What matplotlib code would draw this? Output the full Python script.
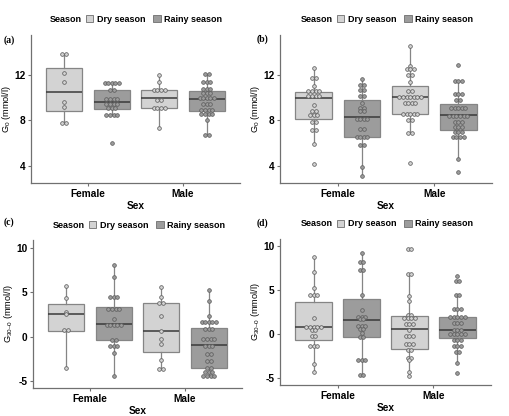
import matplotlib
matplotlib.use('Agg')
import matplotlib.pyplot as plt
from matplotlib.patches import Patch
from collections import Counter
import numpy as np

plt.rcParams['font.family'] = ['Liberation Sans', 'DejaVu Sans']
plt.rcParams['mathtext.fontset'] = 'custom'
plt.rcParams['mathtext.rm'] = 'Liberation Sans'

sexes = ['Female', 'Male']
seasons = ['Dry season', 'Rainy season']

# panel (a): G0
a_female_dry = [13.8, 13.8, 12.2, 11.4, 9.6, 9.2, 7.8, 7.8]
a_female_rainy = [11.3, 11.3, 11.3, 11.3, 11.3, 10.64, 10.64, 9.88, 9.88, 9.88, 9.88,
                  9.47, 9.47, 9.47, 9.47, 9.09, 9.09, 9.09, 8.5, 8.5, 8.5, 8.5, 6.05]
a_male_dry = [12.03, 11.35, 10.64, 10.64, 10.64, 10.64, 9.82, 9.82,
              9.09, 9.09, 9.09, 9.09, 7.32]
a_male_rainy = [12.1, 12.1, 11.4, 11.4, 11.4, 10.8, 10.8, 10.8, 10.4, 10.4, 10.4,
                9.95, 9.95, 9.95, 9.95, 9.95, 9.4, 9.4, 9.4, 8.95, 8.95, 8.95, 8.95,
                8.6, 8.6, 8.6, 8.6, 8.05, 6.7, 6.7]
a_quart = [(8.85, 10.5, 12.6), (9.0, 9.64, 10.64), (9.09, 9.97, 10.64), (8.85, 9.88, 10.6)]

# panel (b): G0
b_female_dry = [12.62, 11.74, 11.74, 11.0, 10.55, 10.55, 10.55, 10.55, 10.11, 10.11,
                10.11, 10.11, 9.38, 8.79, 8.79, 8.5, 8.5, 8.5, 7.9, 7.9, 7.17, 7.17,
                5.94, 4.15]
b_female_rainy = [11.65, 11.14, 11.14, 10.7, 10.7, 10.17, 10.17, 9.53, 9.09, 9.09,
                  8.79, 8.79, 8.14, 8.14, 8.14, 8.14, 7.23, 7.23, 6.53, 6.53, 6.53,
                  6.53, 5.85, 5.85, 3.93, 3.14]
b_male_dry = [14.55, 12.82, 12.47, 12.47, 12.47, 12.03, 12.03, 11.35, 10.61, 10.61,
              10.06, 10.06, 10.06, 10.06, 10.06, 10.06, 10.06, 9.53, 9.53, 9.53, 9.53,
              8.58, 8.58, 8.58, 8.58, 8.58, 8.05, 8.05, 6.88, 6.88, 4.23]
b_male_rainy = [12.9, 11.44, 11.44, 11.44, 10.3, 10.3, 10.3, 9.8, 9.8, 9.06, 9.06,
                9.06, 9.06, 9.06, 8.35, 8.35, 8.35, 8.35, 8.35, 8.35, 7.88, 7.88, 7.88,
                7.4, 7.4, 7.4, 6.94, 6.94, 6.94, 6.5, 6.5, 6.5, 6.5, 4.6, 3.47]
b_quart = [(8.1, 9.97, 10.5), (6.58, 8.29, 9.76), (8.58, 10.06, 11.06), (7.18, 8.47, 9.44)]

# panel (c): G30-0
c_female_dry = [5.67, 4.37, 2.8, 2.6, 0.71, 0.71, -3.55]
c_female_rainy = [7.99, 6.68, 4.51, 4.51, 4.51, 3.13, 3.13, 3.13, 3.13, 1.94,
                  1.3, 1.3, 1.3, 1.3, 1.3, -0.41, -0.41, -1.08, -1.08, -1.08, -1.83, -4.37]
c_male_dry = [5.56, 4.51, 3.81, 3.81, 2.35, 0.6, -0.26, -0.86, -2.57, -3.58, -3.58]
c_male_rainy = [5.19, 3.96, 2.31, 1.64, 1.64, 1.64, 1.64, 1.64, 0.9, 0.9, 0.9,
                -0.22, -0.22, -0.22, -0.22, -1.08, -1.08, -1.08, -1.9, -1.9,
                -2.72, -2.72, -3.47, -3.47, -3.96, -3.96, -3.96, -4.4, -4.4, -4.4, -4.4]
c_quart = [(0.6, 2.57, 3.69), (-0.41, 1.46, 3.32), (-1.72, 0.63, 3.81), (-3.47, -0.97, 1.0)]

# panel (d): G30-0
d_female_dry = [8.79, 7.08, 5.27, 4.43, 4.43, 4.43, 1.86, 0.83, 0.83, 0.83, 0.83, 0.83,
                0.53, 0.53, -0.23, -0.23, -1.36, -1.36, -1.36, -3.33, -4.32]
d_female_rainy = [9.24, 8.22, 8.22, 7.27, 7.27, 4.5, 2.73, 1.97, 1.97, 1.97, 1.7, 1.7,
                  1.0, 1.0, 1.0, 0.6, 0.6, 0.2, -0.34, -0.34, -2.9, -2.9, -2.9, -4.6, -4.6]
d_male_dry = [9.73, 9.73, 6.9, 6.9, 4.36, 3.75, 2.2, 2.2, 1.9, 1.9, 1.9, 1.9, 1.14, 1.14,
              1.14, 0.45, -0.2, -0.2, -0.2, -1.06, -1.06, -1.06, -1.82, -1.82, -2.73,
              -2.73, -2.95, -4.24, -4.73]
d_male_rainy = [6.63, 6.06, 6.06, 4.43, 4.43, 2.86, 2.86, 2.86, 1.95, 1.95, 1.95, 1.95,
                1.95, 1.25, 1.25, 1.25, 0.45, 0.45, 0.45, 0.0, 0.0, 0.0, 0.0, 0.0,
                -0.62, -0.62, -0.62, -1.3, -1.3, -1.3, -1.95, -1.95, -3.2, -4.35]
d_quart = [(-0.61, 0.83, 3.64), (-0.34, 1.59, 4.0), (-1.63, 0.6, 2.12), (-0.45, 0.45, 1.97)]

box_colors = ['#d3d3d3', '#9c9c9c']
edge = '#858585'


def draw_panel(rect, groups, quarts, label, ylabel, yticks, ylim, leg_y, lab_xy):
    ax = fig.add_axes([rect[0] / 510, 1 - rect[3] / 416,
                       (rect[1] - rect[0]) / 510, (rect[3] - rect[2]) / 416])
    positions = [0.75, 1.25, 1.75, 2.25]
    stats = []
    for vals, (q1, med, q3) in zip(groups, quarts):
        iqr = q3 - q1
        lo = min(v for v in vals if v >= q1 - 1.5 * iqr)
        hi = max(v for v in vals if v <= q3 + 1.5 * iqr)
        stats.append(dict(q1=q1, med=med, q3=q3, whislo=lo, whishi=hi, fliers=[]))
    bp = ax.bxp(stats, positions=positions, widths=0.38, patch_artist=True,
                showcaps=False, showfliers=False,
                whiskerprops=dict(color=edge, lw=0.9),
                medianprops=dict(color='#3a3a3a', lw=1.1),
                boxprops=dict(edgecolor=edge, lw=0.9))
    for i, patch in enumerate(bp['boxes']):
        patch.set_facecolor(box_colors[i % 2])
    dx = 0.037
    for i, (vals, pos) in enumerate(zip(groups, positions)):
        for v, k in Counter(vals).items():
            xs = pos + (np.arange(k) - (k - 1) / 2) * dx
            ax.scatter(xs, [v] * k, s=7, facecolor=box_colors[i % 2],
                       edgecolor='#5e5e5e', linewidth=0.55, zorder=3)
    ax.set_xlim(0.4, 2.6)
    ax.set_ylim(*ylim)
    ax.set_xticks([1, 2])
    ax.set_xticklabels(sexes, fontweight='bold', fontsize=7.3)
    ax.set_yticks(yticks)
    ax.set_yticklabels([str(t) for t in yticks], fontweight='bold', fontsize=7.3)
    ax.set_xlabel('Sex', fontweight='bold', fontsize=7.3, labelpad=1.5)
    ax.set_ylabel(ylabel, fontsize=6.6, labelpad=1)
    for s in ['top', 'right']:
        ax.spines[s].set_visible(False)
    for s in ['left', 'bottom']:
        ax.spines[s].set_color('#707070')
        ax.spines[s].set_linewidth(0.9)
    ax.tick_params(length=2.5, width=0.8, color='#707070', pad=1.5)
    # legend above the panel
    fig.text(rect[4] / 510, 1 - leg_y / 416, 'Season', fontweight='bold',
             fontsize=6.5, ha='left', va='center')
    handles = [Patch(facecolor=c, edgecolor='#6e6e6e', lw=0.6) for c in box_colors]
    fig.legend(handles, seasons, loc='center left', ncol=2, frameon=False,
               bbox_to_anchor=((rect[4] + 36) / 510, 1 - leg_y / 416),
               prop=dict(weight='bold', size=6.5), handlelength=0.8,
               handleheight=0.8, handletextpad=0.4, columnspacing=0.9,
               borderpad=0, borderaxespad=0)
    fig.text(lab_xy[0] / 510, 1 - lab_xy[1] / 416, label, family='Liberation Serif',
             fontweight='bold', fontsize=7, ha='left', va='center')
    return ax


fig = plt.figure(figsize=(5.1, 4.16), dpi=100)

g0_label = 'G$_\\mathrm{0}$ (mmol/l)'
g30_label = 'G$_\\mathrm{30\u20130}$ (mmol/l)'

draw_panel((31, 240, 35, 183, 50), [a_female_dry, a_female_rainy, a_male_dry, a_male_rainy],
           a_quart, '(a)', g0_label, [4, 8, 12], (2.5, 15.5), 19, (4, 40))
draw_panel((280, 492, 35, 183, 301), [b_female_dry, b_female_rainy, b_male_dry, b_male_rainy],
           b_quart, '(b)', g0_label, [4, 8, 12], (2.5, 15.5), 19, (257, 39))
draw_panel((33, 242, 240, 388, 53), [c_female_dry, c_female_rainy, c_male_dry, c_male_rainy],
           c_quart, '(c)', g30_label, [-5, 0, 5, 10], (-5.75, 10.85), 225, (4, 222))
draw_panel((280, 491, 239, 385, 301), [d_female_dry, d_female_rainy, d_male_dry, d_male_rainy],
           d_quart, '(d)', g30_label, [-5, 0, 5, 10], (-5.75, 10.85), 224, (257, 223))

fig.savefig('out.png', dpi=100, facecolor='white')
